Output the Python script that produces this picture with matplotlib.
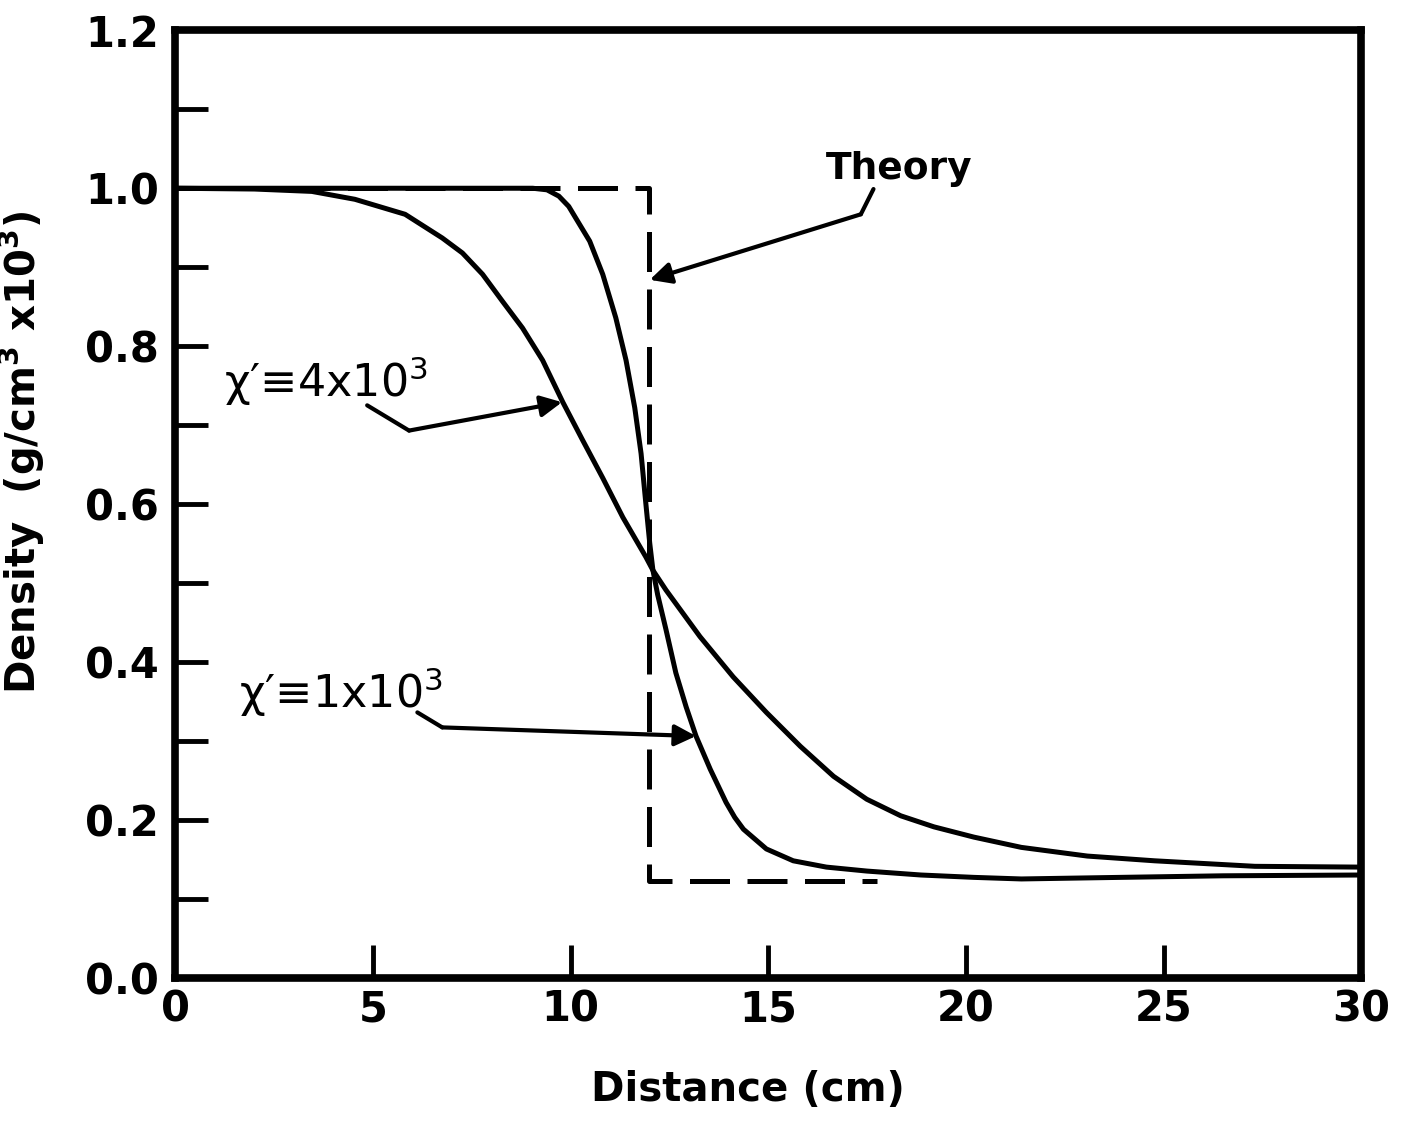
import matplotlib
matplotlib.use("Agg")
import matplotlib.pyplot as plt
from matplotlib.ticker import MultipleLocator

plt.rcParams['font.family'] = ['DejaVu Sans']
plt.rcParams['mathtext.fontset'] = 'dejavusans'

# ---- data ----
# chi' = 4x10^3 (broad profile)
x_broad = [0.0, 2.0, 3.45, 4.54, 5.81, 6.75, 7.26, 7.77, 8.27, 8.78, 9.29, 9.80,
           10.30, 10.81, 11.32, 11.90, 12.08, 12.41, 13.27, 14.11, 14.95, 15.81,
           16.65, 17.49, 18.35, 19.19, 20.2, 21.4, 23.07, 24.77, 27.31, 30.0]
y_broad = [1.0, 0.999, 0.996, 0.986, 0.967, 0.937, 0.918, 0.891, 0.857, 0.823, 0.782, 0.729,
           0.681, 0.633, 0.583, 0.533, 0.516, 0.491, 0.432, 0.381, 0.336, 0.293,
           0.255, 0.226, 0.205, 0.191, 0.178, 0.165, 0.154, 0.148, 0.141, 0.140]

# chi' = 1x10^3 (steep profile)
x_steep = [0.0, 9.04, 9.40, 9.70, 9.95, 10.13, 10.48, 10.81, 11.14, 11.40, 11.62, 11.78,
           11.90, 12.0, 12.08, 12.2, 12.41, 12.66, 12.92, 13.17, 13.53, 13.93, 14.15,
           14.37, 14.95, 15.63, 16.47, 17.49, 18.86, 20.2, 21.4, 23.9, 26.5, 30.0]
y_steep = [1.0, 1.0, 0.998, 0.990, 0.977, 0.962, 0.933, 0.891, 0.836, 0.782, 0.722, 0.664,
           0.601, 0.550, 0.516, 0.485, 0.441, 0.386, 0.343, 0.306, 0.264, 0.222, 0.203,
           0.188, 0.163, 0.148, 0.140, 0.135, 0.130, 0.127, 0.125, 0.127, 0.129, 0.130]

# theory (step profile)
x_theory = [0.0, 11.97, 11.97, 17.74]
y_theory = [1.0, 1.0, 0.122, 0.122]

x_ticks = [0, 5, 10, 15, 20, 25, 30]
x_ticklabels = ['0', '5', '10', '15', '20', '25', '30']
y_ticks = [0.0, 0.2, 0.4, 0.6, 0.8, 1.0, 1.2]
y_ticklabels = ['0.0', '0.2', '0.4', '0.6', '0.8', '1.0', '1.2']

# annotation leaders (data coords)
theory_text_xy = (18.3, 1.025)
theory_leader = ([17.66, 17.34], [0.999, 0.967])
theory_tip = (12.0, 0.884)

broad_text_xy = (3.8, 0.756)
broad_leader = ([4.85, 5.91], [0.725, 0.693])
broad_tip = (9.78, 0.729)

steep_text_xy = (4.2, 0.361)
steep_leader = ([6.12, 6.75], [0.336, 0.317])
steep_tip = (13.17, 0.306)

# ---- figure ----
fig = plt.figure(figsize=(14.15, 11.25), dpi=100)
ax = fig.add_axes([0.124, 0.131, 0.838, 0.842])

lw = 3.6
ax.plot(x_broad, y_broad, color='black', lw=lw, solid_capstyle='round', solid_joinstyle='round')
ax.plot(x_steep, y_steep, color='black', lw=lw, solid_capstyle='round', solid_joinstyle='round')
ax.plot(x_theory, y_theory, color='black', lw=lw, linestyle=(0, (8, 3.5)))

ax.set_xlim(0, 30)
ax.set_ylim(0, 1.2)

for s in ax.spines.values():
    s.set_linewidth(5.5)

ax.set_xticks(x_ticks)
ax.set_xticklabels(x_ticklabels)
ax.set_yticks(y_ticks)
ax.set_yticklabels(y_ticklabels)
ax.yaxis.set_minor_locator(MultipleLocator(0.1))
ax.tick_params(axis='both', which='both', direction='in', top=False, right=False,
               length=24, width=3.5, labelsize=30)
ax.tick_params(axis='y', which='major', pad=12)
ax.tick_params(axis='x', which='major', pad=8)
for lab in ax.get_xticklabels() + ax.get_yticklabels():
    lab.set_fontweight('bold')

ax.set_xlabel('Distance (cm)', fontsize=29, fontweight='bold')
ax.xaxis.set_label_coords(0.483, -0.097)
ax.set_ylabel(r'Density  (g/cm$^\mathbf{3}$ x10$^\mathbf{3}$)', fontsize=29, fontweight='bold')
ax.yaxis.set_label_coords(-0.108, 0.555)

arrow_kw = dict(arrowstyle='-|>', lw=3.0, color='black', mutation_scale=32,
                shrinkA=0, shrinkB=0)

# Theory
ax.text(*theory_text_xy, 'Theory', fontsize=27, fontweight='bold', ha='center', va='center')
ax.plot(*theory_leader, color='black', lw=3.0, solid_capstyle='round')
ax.annotate('', xy=theory_tip, xytext=(theory_leader[0][-1], theory_leader[1][-1]),
            arrowprops=arrow_kw)

# chi' = 4x10^3
ax.text(*broad_text_xy, "χ′≡4x10$^3$", fontsize=32, ha='center', va='center')
ax.plot(*broad_leader, color='black', lw=3.0, solid_capstyle='round')
ax.annotate('', xy=broad_tip, xytext=(broad_leader[0][-1], broad_leader[1][-1]),
            arrowprops=arrow_kw)

# chi' = 1x10^3
ax.text(*steep_text_xy, "χ′≡1x10$^3$", fontsize=32, ha='center', va='center')
ax.plot(*steep_leader, color='black', lw=3.0, solid_capstyle='round')
ax.annotate('', xy=steep_tip, xytext=(steep_leader[0][-1], steep_leader[1][-1]),
            arrowprops=arrow_kw)

fig.savefig('out.png', dpi=100)
